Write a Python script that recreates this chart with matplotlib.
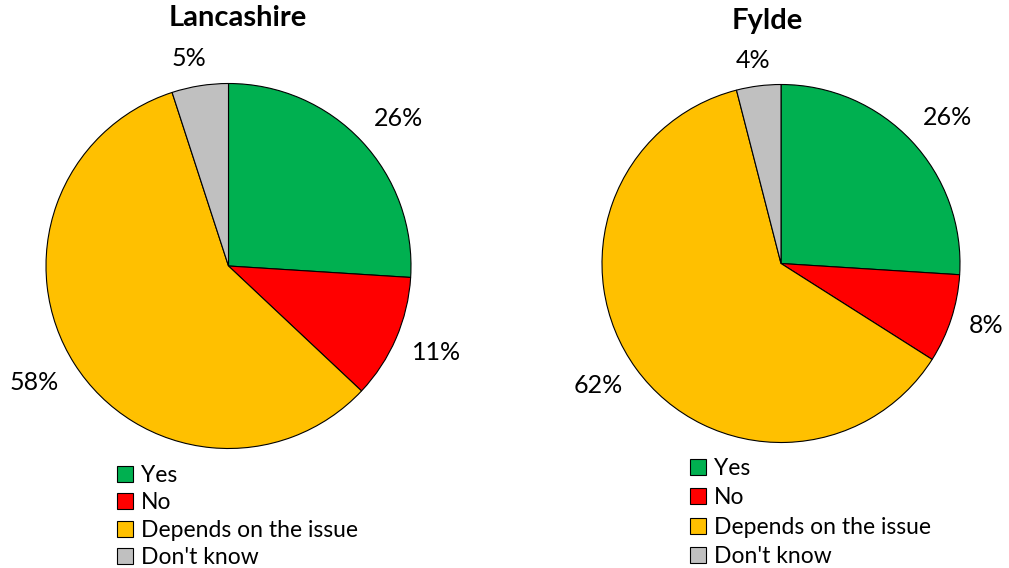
import matplotlib
matplotlib.use("Agg")
import matplotlib.pyplot as plt
import numpy as np

categories = ["Yes", "No", "Depends on the issue", "Don't know"]
lancashire = [26, 11, 58, 5]
fylde = [26, 8, 62, 4]
titles = ["Lancashire", "Fylde"]
colors = ["#00B050", "#FF0000", "#FFC000", "#C0C0C0"]

plt.rcParams['font.family'] = ['Lato', 'DejaVu Sans']

W, H = 1009, 568
fig = plt.figure(figsize=(W / 100, H / 100), dpi=100)

def px_axes(cx, cy, r):
    return fig.add_axes([(cx - r) / W, (H - cy - r) / H, 2 * r / W, 2 * r / H])

# layout (pixels): pie centre, radius, legend position & spacing, title position,
# label distance (in radii) and angle nudge (deg) per slice
layouts = [
    dict(cx=228.5, cy=266, r=182.5, lx=117, ly=465, lsp=0.28, tx=237.5, ty=18,
         dist=[1.235, 1.232, 1.24, 1.157], nudge=[-2.3, 0.8, -1.4, 1.9]),
    dict(cx=781, cy=263.5, r=179, lx=690, ly=458, lsp=0.37, tx=767.5, ty=21,
         dist=[1.239, 1.197, 1.23, 1.147], nudge=[-1.9, 1.2, -2.2, 0.5]),
]

for vals, L, title in zip([lancashire, fylde], layouts, titles):
    ax = px_axes(L["cx"], L["cy"], L["r"])
    wedges, texts = ax.pie(vals, colors=colors, startangle=90, counterclock=False,
                           wedgeprops=dict(edgecolor="black", linewidth=0.8))
    for w, v, d, n in zip(wedges, vals, L["dist"], L["nudge"]):
        ang = np.deg2rad((w.theta1 + w.theta2) / 2 + n)
        ax.text(d * np.cos(ang), d * np.sin(ang), f"{v}%", ha="center", va="center",
                fontsize=18)
    ax.set_xlim(-1, 1)
    ax.set_ylim(-1, 1)
    ax.axis("off")
    fig.text(L["tx"] / W, 1 - L["ty"] / H, title, ha="center", va="center",
             fontsize=21, fontweight="bold")
    fig.legend(wedges, categories, loc="upper left",
               bbox_to_anchor=(L["lx"] / W, 1 - L["ly"] / H), frameon=False,
               fontsize=16.5, handlelength=0.7, handleheight=0.7,
               handletextpad=0.35, labelspacing=L["lsp"], borderpad=0,
               borderaxespad=0)

fig.savefig("out.png", dpi=100)
